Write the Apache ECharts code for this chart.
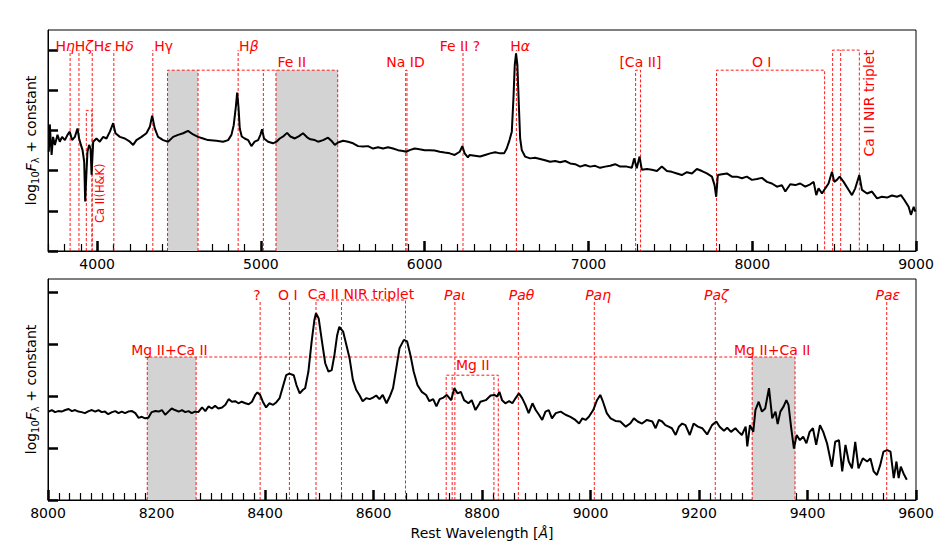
<!DOCTYPE html>
<html>
<head>
<meta charset="utf-8">
<script src="https://cdn.jsdelivr.net/npm/echarts@6.0.0/dist/echarts.min.js"></script>
<style>
  html, body { margin: 0; padding: 0; background: #fff; }
  #chart { width: 950px; height: 556px; }
</style>
</head>
<body>
<div id="chart"></div>
<script>
"use strict";

/* ---- data: spectrum (wavelength in Å, flux in tick units) ---- */

const topWave = [
  3705, 3711, 3722, 3731, 3742, 3758, 3772, 3786, 3803, 3819, 3833, 3847, 3864, 3880, 3890, 3901, 3911, 3921, 3927, 3935,
  3941, 3951, 3960, 3966, 3976, 3996, 4016, 4037, 4057, 4078, 4098, 4112, 4139, 4169, 4200, 4220, 4240, 4271, 4301, 4322,
  4336, 4352, 4372, 4403, 4433, 4464, 4494, 4525, 4555, 4586, 4616, 4647, 4677,
  4728, 4769, 4800, 4820, 4834, 4847, 4855, 4863, 4871, 4883, 4901, 4922, 4942, 4962, 4983, 4997, 5007, 5019, 5044, 5074,
  5095, 5115, 5139, 5160, 5180, 5207, 5233, 5257, 5282, 5302, 5329, 5349, 5380, 5410, 5430, 5451, 5471, 5502, 5532, 5563,
  5593, 5624, 5654, 5685, 5715, 5746, 5776, 5807, 5837, 5868, 5888, 5908, 5939, 5969, 6000, 6030, 6061, 6092, 6122, 6153,
  6183, 6214, 6230, 6244, 6264, 6274,
  6338, 6369, 6400, 6430, 6461, 6485, 6501, 6518, 6532, 6542, 6550, 6558, 6566, 6575, 6583, 6593, 6613, 6644, 6674, 6705,
  6735, 6766, 6797, 6827, 6858, 6888, 6919, 6949, 6980, 7010, 7041, 7071, 7102, 7133, 7163, 7194, 7234, 7265, 7279, 7295,
  7312, 7326, 7357, 7387, 7418, 7448, 7479, 7509, 7540, 7570, 7601, 7632, 7662, 7693, 7723, 7754, 7770, 7780, 7790, 7815,
  7845, 7876, 7906, 7937, 7967, 7998, 8029, 8059, 8090, 8120, 8151, 8181, 8202, 8232, 8263, 8293, 8324, 8354, 8375, 8391,
  8405, 8426, 8446, 8466, 8487, 8501, 8517, 8534, 8558, 8589, 8609, 8629, 8654, 8670, 8701, 8731, 8762, 8792, 8823, 8853,
  8884, 8908, 8929, 8955, 8969, 8986, 8996
];
const topFlux = [
  2.47, 3.15, 2.39, 2.84, 2.64, 2.89, 2.72, 2.84, 2.76, 2.89, 2.97, 2.76, 2.84, 3.05, 2.80, 2.64, 2.51, 2.22, 1.23, 1.97,
  2.47, 2.64, 2.55, 1.90, 2.72, 2.80, 2.72, 2.84, 2.80, 2.97, 3.18, 2.93, 2.84, 2.80, 2.72, 2.64, 2.76, 2.84, 2.93, 3.09,
  3.37, 3.05, 2.84, 2.76, 2.72, 2.84, 2.89, 2.93, 2.99, 2.90, 2.84, 2.80, 2.76,
  2.745, 2.72, 2.76, 2.89, 3.13, 3.59, 3.94, 3.59, 3.05, 2.85, 2.80, 2.76, 2.61, 2.72, 2.76, 2.89, 3.03, 2.80, 2.72, 2.68,
  2.72, 2.80, 2.86, 2.94, 2.85, 2.80, 2.86, 2.93, 2.83, 2.78, 2.76, 2.72, 2.76, 2.82, 2.745, 2.64, 2.70, 2.745, 2.72, 2.68,
  2.61, 2.60, 2.61, 2.55, 2.58, 2.55, 2.58, 2.55, 2.51, 2.49, 2.47, 2.51, 2.55, 2.53, 2.51, 2.51, 2.50, 2.47, 2.45, 2.43,
  2.39, 2.47, 2.61, 2.43, 2.33, 2.39,
  2.35, 2.39, 2.43, 2.455, 2.43, 2.43, 2.55, 2.76, 2.97, 3.80, 4.63, 4.92, 4.63, 3.63, 2.80, 2.51, 2.35, 2.305, 2.32, 2.29,
  2.26, 2.22, 2.24, 2.21, 2.24, 2.18, 2.16, 2.10, 2.14, 2.10, 2.12, 2.07, 2.10, 2.12, 2.16, 2.10, 2.10, 2.07, 2.305, 2.06,
  2.35, 2.02, 2.04, 2.02, 1.99, 2.10, 1.99, 1.97, 1.93, 1.89, 1.96, 1.93, 2.04, 1.99, 1.93, 1.85, 1.64, 1.35, 1.89, 1.91,
  1.93, 1.85, 1.85, 1.81, 1.85, 1.77, 1.79, 1.82, 1.72, 1.68, 1.60, 1.64, 1.48, 1.66, 1.64, 1.68, 1.60, 1.66, 1.72, 1.39,
  1.56, 1.43, 1.56, 1.68, 1.97, 1.72, 1.77, 1.85, 1.72, 1.52, 1.39, 1.56, 1.89, 1.52, 1.43, 1.48, 1.31, 1.35, 1.33, 1.38,
  1.35, 1.39, 1.27, 1.10, 0.90, 1.10, 0.98
];

const botWave = [
  8001, 8007, 8013, 8019, 8025, 8032, 8038, 8044, 8050, 8056, 8062, 8068, 8075, 8081, 8087, 8093, 8099, 8105, 8111, 8118,
  8124, 8130, 8136, 8142, 8148, 8155, 8161, 8167, 8173, 8179, 8185, 8191, 8198, 8204, 8210, 8216, 8222, 8228, 8234, 8241,
  8247, 8253, 8259, 8265, 8271, 8277, 8284, 8290, 8296, 8302, 8308, 8314, 8321, 8327, 8333, 8339, 8345, 8351, 8357, 8364,
  8370, 8376, 8382, 8386, 8391, 8396, 8402, 8408, 8415, 8421, 8427, 8433, 8439, 8445, 8453, 8458, 8464, 8470, 8474, 8480,
  8486, 8491, 8494, 8499, 8505, 8511, 8517, 8523, 8528, 8533, 8537, 8544, 8550, 8556, 8562, 8568, 8574, 8580, 8587, 8593,
  8599, 8605, 8611, 8617, 8624, 8630, 8636, 8642, 8648, 8656, 8662, 8668, 8674, 8681, 8689, 8697, 8703, 8710, 8716, 8722,
  8729, 8735, 8743, 8749, 8755, 8761, 8767, 8775, 8781, 8788, 8794,
  8797, 8807, 8816, 8823, 8828, 8832, 8837, 8843, 8850, 8856, 8862, 8868, 8874, 8880, 8886, 8893, 8899, 8905, 8911, 8917,
  8923, 8929, 8936, 8945, 8954, 8963, 8972, 8979, 8985, 8991, 8997, 9005, 9012, 9018, 9023, 9030, 9037, 9046, 9055, 9065,
  9073, 9080, 9087, 9095, 9104, 9114, 9120, 9126, 9132, 9138, 9144, 9150, 9157, 9163, 9169, 9175, 9183, 9190, 9198, 9206,
  9215, 9224, 9232, 9238, 9246, 9252, 9259, 9267, 9273, 9279, 9286, 9289, 9294, 9300, 9304, 9310, 9316, 9322, 9329, 9335,
  9341, 9345, 9350, 9356, 9361, 9365, 9370, 9375, 9380, 9386, 9392, 9398, 9404, 9410, 9416, 9423, 9429, 9436, 9445, 9451,
  9458, 9464, 9470, 9476, 9482, 9488, 9494, 9502, 9510, 9516, 9522, 9528, 9534, 9540, 9547, 9553, 9559, 9564, 9568, 9572,
  9577, 9583
];
const botFlux = [
  1.70, 1.73, 1.69, 1.71, 1.70, 1.73, 1.75, 1.71, 1.73, 1.70, 1.69, 1.67, 1.71, 1.73, 1.70, 1.73, 1.69, 1.70, 1.65, 1.69,
  1.71, 1.67, 1.70, 1.67, 1.70, 1.71, 1.67, 1.58, 1.60, 1.57, 1.58, 1.69, 1.71, 1.70, 1.73, 1.64, 1.70, 1.76, 1.73, 1.70,
  1.73, 1.69, 1.71, 1.67, 1.70, 1.69, 1.78, 1.71, 1.80, 1.76, 1.81, 1.76, 1.78, 1.83, 1.94, 1.89, 1.90, 1.86, 1.89, 1.86,
  1.84, 1.89, 2.02, 2.07, 2.02, 1.89, 1.78, 1.86, 1.83, 1.88, 1.96, 2.18, 2.40, 2.43, 2.40, 2.21, 2.05, 2.12, 2.15, 2.47,
  3.05, 3.46, 3.59, 3.49, 3.05, 2.63, 2.47, 2.50, 2.79, 3.17, 3.33, 3.24, 2.98, 2.72, 2.31, 2.12, 2.02, 1.90, 1.96, 1.94,
  1.97, 2.01, 1.94, 2.02, 1.86, 1.99, 2.15, 2.53, 2.92, 3.08, 3.05, 2.79, 2.47, 2.21, 2.08, 2.02, 1.90, 1.94, 1.80, 1.94,
  1.97, 2.02, 1.92, 2.15, 2.05, 2.08, 1.92, 1.86, 1.92, 1.73, 1.83,
  1.89, 1.92, 2.01, 2.02, 1.99, 2.08, 1.92, 1.86, 1.90, 1.86, 1.96, 2.05, 1.96, 1.83, 1.67, 1.86, 1.73, 1.64, 1.54, 1.70,
  1.73, 1.57, 1.67, 1.70, 1.64, 1.60, 1.54, 1.47, 1.57, 1.54, 1.60, 1.73, 1.92, 2.02, 1.89, 1.67, 1.57, 1.52, 1.51, 1.41,
  1.47, 1.57, 1.51, 1.47, 1.54, 1.51, 1.38, 1.54, 1.51, 1.44, 1.41, 1.38, 1.25, 1.41, 1.47, 1.44, 1.25, 1.47, 1.41, 1.38,
  1.26, 1.44, 1.51, 1.41, 1.33, 1.39, 1.31, 1.38, 1.31, 1.25, 1.41, 1.03, 1.44, 1.31, 1.73, 1.89, 1.70, 1.76, 2.15, 1.57,
  1.70, 1.46, 1.70, 1.80, 1.92, 1.83, 1.38, 0.99, 1.25, 1.15, 1.22, 1.09, 1.31, 1.38, 1.06, 1.44, 1.31, 1.09, 0.64, 1.12,
  1.15, 0.55, 1.06, 0.74, 0.61, 1.12, 0.61, 0.80, 0.74, 0.80, 0.55, 0.48, 0.67, 0.93, 0.96, 0.93, 0.42, 0.74, 0.42, 0.64,
  0.51, 0.39
];

// tick positions
const topMajor = [4000, 5000, 6000, 7000, 8000, 9000];
const topYTicks = [0, 1, 2, 3, 4, 5];
const botYTicks = [0, 1, 2, 3, 4];

// line identifications: [label, wavelength]
const topSingles = [["Hη", 3835], ["Hζ", 3889], ["Hε", 3970], ["Hδ", 4102], ["Hγ", 4340],
                    ["Hβ", 4861], ["Fe II ?", 6234], ["Hα", 6560]];
const topGroups = [["Ca II(H&K)", [3934, 3968]], ["Fe II", [4430, 4616, 5015, 5092, 5469]],
                   ["Na ID", [5884, 5892]], ["[Ca II]", [7288, 7318]], ["O I", [7782, 8442]],
                   ["Ca II NIR triplet", [8491, 8540, 8654]]];
const topShaded = [[4430, 4616], [5092, 5469]];

const botSingles = [["?", 8391], ["O I", 8445], ["Paι", 8750], ["Paθ", 8867], ["Paη", 9007],
                    ["Paζ", 9230], ["Paε", 9546]];
const botGroups = [["Ca II NIR triplet", [8494, 8541, 8659]], ["Mg II", [8734, 8745, 8822, 8830]],
                   ["Mg II+Ca II", [8183, 8273, 9298, 9377]]];
const botShaded = [[8183, 8273], [9298, 9377]];

/* ---- layout: heights of the markers and where the labels sit ---- */

const FONT = "DejaVu Sans";
const RED = "#ff0000";
const FS = 14;

const topSingleTop = 5.0;
const topGroupTop = [3.5, 4.5, 4.5, 4.5, 4.5, 5.0];
const topShadeTop = 4.5;
const botSingleTop = 3.846;
const botGroupTop = [3.846, 2.40, 2.75];
const botShadeTop = 2.75;

// [text, x, y, align, rotate, fontSize]
const topLabels = [
  ["H{i|η}", 3746, 5.11, "left"], ["H{i|ζ}", 3864, 5.11, "left"], ["H{i|ε}", 3980, 5.11, "left"],
  ["H{i|δ}", 4108, 5.11, "left"], ["Hγ", 4348, 5.11, "left"], ["H{i|β}", 4867, 5.11, "left"],
  ["Fe II ?", 6092, 5.11, "left"], ["H{i|α}", 6522, 5.11, "left"],
  ["Fe II", 5101, 4.71, "left"], ["Na ID", 5766, 4.71, "left"], ["[Ca II]", 7189, 4.71, "left"],
  ["O I", 7998, 4.71, "left"],
  ["Ca II NIR triplet", 8713, 5.0, "right", 90],
  ["Ca II(H&K)", 4016, 2.18, "right", 90, 11.5]
];
const botLabels = [
  ["?", 8385, 3.94, "center"], ["O I", 8442, 3.94, "center"], ["Ca II NIR triplet", 8577, 3.96, "center"],
  ["{i|Paι}", 8750, 3.94, "center"], ["{i|Paθ}", 8873, 3.94, "center"], ["{i|Paη}", 9014, 3.94, "center"],
  ["{i|Paζ}", 9232, 3.94, "center"], ["{i|Paε}", 9548, 3.94, "center"],
  ["Mg II", 8783, 2.60, "center"],
  ["Mg II+Ca II", 8224, 2.885, "center"], ["Mg II+Ca II", 9335, 2.885, "center"]
];

/* ---- helpers ---- */

const zip = (xs, ys) => xs.map((x, i) => [x, ys[i]]);

// dashed marker paths, broken with '-' so one line series draws them all
function markerPath(singles, singleTop, groups, groupTop) {
  const pts = [];
  const gap = () => pts.push(["-", "-"]);
  singles.forEach(([, w]) => { pts.push([w, 0], [w, singleTop]); gap(); });
  groups.forEach(([, ws], g) => {
    const top = groupTop[g], n = ws.length;
    pts.push([ws[0], 0], [ws[0], top], [ws[n - 1], top], [ws[n - 1], 0]); gap();
    ws.slice(1, -1).forEach(w => { pts.push([w, 0], [w, top]); gap(); });
  });
  return pts;
}

const shadeAreas = (spans, top) => spans.map(([a, b]) => [{ xAxis: a, yAxis: 0 }, { xAxis: b, yAxis: top }]);

const labelData = labels => labels.map(([text, x, y, align, rotate, size]) => ({
  value: [x, y], name: text,
  label: { align, rotate: rotate || 0, fontSize: size || FS }
}));

const richIt = { i: { fontStyle: "italic", fontFamily: FONT, fontSize: FS, color: RED } };

const axisText = { fontFamily: FONT, fontSize: FS, color: "#000" };
const plain = v => String(v);

function yAxisFor(grid, max, ticks) {
  return {
    gridIndex: grid, type: "value", min: 0, max,
    axisLine: { show: true, lineStyle: { color: "#000", width: 1 } },
    axisTick: { show: true, inside: true, length: 10, customValues: ticks, lineStyle: { color: "#000", width: 2.5 } },
    axisLabel: { show: false },
    splitLine: { show: false },
    name: "log{s|10}{i|F}{s|λ} + constant",
    nameLocation: "middle", nameGap: 8,
    nameTextStyle: {
      ...axisText, lineHeight: 19,
      rich: {
        s: { fontFamily: FONT, fontSize: 10, color: "#000", verticalAlign: "bottom", lineHeight: 11 },
        i: { fontFamily: FONT, fontSize: FS, color: "#000", fontStyle: "italic" }
      }
    }
  };
}

const markerLine = (xi, yi, data, shade) => ({
  type: "line", xAxisIndex: xi, yAxisIndex: yi, data, silent: true, z: 2,
  showSymbol: false, symbol: "none", connectNulls: false,
  lineStyle: { color: RED, width: 0.9, type: [3, 2] },
  markArea: { silent: true, itemStyle: { color: "#d3d3d3", opacity: 1 }, data: shade }
});

const spectrum = (xi, yi, data) => ({
  type: "line", xAxisIndex: xi, yAxisIndex: yi, data, z: 4,
  showSymbol: false, symbol: "none",
  lineStyle: { color: "#000", width: 2 }
});

const labelSeries = (xi, yi, data) => ({
  type: "scatter", xAxisIndex: xi, yAxisIndex: yi, data, z: 5, silent: true,
  symbolSize: 0,
  itemStyle: { opacity: 1, color: RED },
  label: {
    show: true, position: [0, 0], verticalAlign: "middle", opacity: 1,
    color: RED, fontFamily: FONT, fontSize: FS,
    formatter: p => p.name, rich: richIt
  }
});

/* ---- chart ---- */

const chart = echarts.init(document.getElementById("chart"), null, { renderer: "svg" });

chart.setOption({
  animation: false,
  backgroundColor: "#fff",
  grid: [
    { left: 48, right: 34, top: 30, height: 221, show: true, borderColor: "#000", borderWidth: 1, backgroundColor: "transparent" },
    { left: 48, right: 34, top: 279, height: 221, show: true, borderColor: "#000", borderWidth: 1, backgroundColor: "transparent" }
  ],
  xAxis: [
    {
      gridIndex: 0, type: "value", position: "bottom", min: 3700, max: 9000, interval: 100,
      axisLine: { lineStyle: { color: "#000", width: 1 } },
      axisTick: { inside: true, length: 10, customValues: topMajor, lineStyle: { color: "#000", width: 2.5 } },
      axisLabel: { ...axisText, margin: 6, customValues: topMajor, formatter: plain },
      splitLine: { show: false }
    },
    {
      gridIndex: 0, type: "value", position: "bottom", min: 3700, max: 9000, interval: 100,
      axisLine: { show: false },
      axisTick: { inside: true, length: 7, lineStyle: { color: "#000", width: 1.2 } },
      axisLabel: { show: false },
      splitLine: { show: false }
    },
    {
      gridIndex: 1, type: "value", position: "bottom", min: 8000, max: 9600, interval: 200,
      axisLine: { lineStyle: { color: "#000", width: 1 } },
      axisTick: { inside: true, length: 10, lineStyle: { color: "#000", width: 2.5 } },
      minorTick: { show: true, splitNumber: 10, length: 7, lineStyle: { color: "#000", width: 1.2 } },
      axisLabel: { ...axisText, margin: 6, formatter: plain },
      splitLine: { show: false },
      name: "Rest Wavelength [{i|Å}]",
      nameLocation: "middle", nameGap: 26,
      nameTextStyle: { ...axisText, rich: { i: { fontFamily: FONT, fontSize: FS, color: "#000", fontStyle: "italic" } } }
    }
  ],
  yAxis: [yAxisFor(0, 5.5, topYTicks), yAxisFor(1, 4.25, botYTicks)],
  series: [
    markerLine(0, 0, markerPath(topSingles, topSingleTop, topGroups, topGroupTop), shadeAreas(topShaded, topShadeTop)),
    spectrum(0, 0, zip(topWave, topFlux)),
    labelSeries(0, 0, labelData(topLabels)),
    markerLine(2, 1, markerPath(botSingles, botSingleTop, botGroups, botGroupTop), shadeAreas(botShaded, botShadeTop)),
    spectrum(2, 1, zip(botWave, botFlux)),
    labelSeries(2, 1, labelData(botLabels))
  ]
});
</script>
</body>
</html>
